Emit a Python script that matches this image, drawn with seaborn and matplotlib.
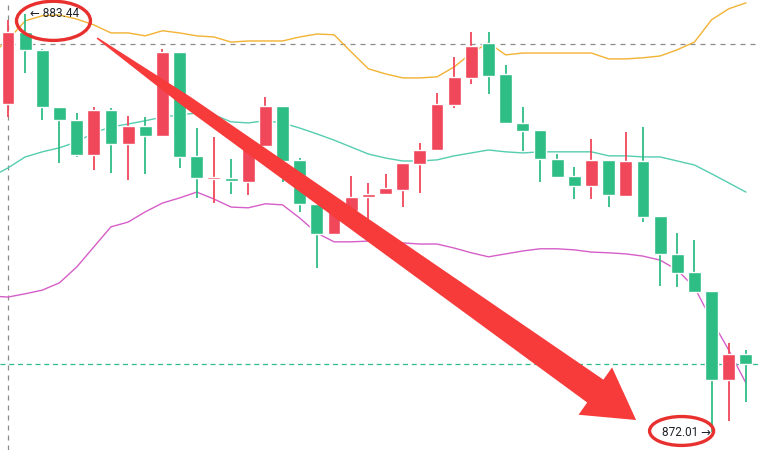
import numpy as np
import pandas as pd
import seaborn as sns
import matplotlib.pyplot as plt
from matplotlib.patches import Ellipse, Polygon

# Candles, oldest first (red = up, green = down)
opens = [880.98, 882.95, 882.46, 880.90, 880.54, 879.59, 880.82, 879.89, 880.38, 880.10,
         882.40, 879.56, 878.93, 878.96, 878.85, 879.83, 880.93, 879.45, 878.25, 877.43,
         878.05, 878.44, 878.52, 878.63, 879.34, 879.72, 880.95, 881.69, 882.65, 881.80,
         880.46, 880.27, 879.48, 879.01, 878.74, 879.45, 878.46, 879.42, 877.92, 876.88,
         876.39, 875.87, 873.43, 874.15]
highs = [883.28, 883.44, 882.48, 880.90, 880.73, 880.90, 880.87, 880.65, 880.62, 882.48,
         882.40, 880.32, 880.08, 879.48, 880.05, 881.17, 880.93, 879.50, 878.25, 878.36,
         879.01, 878.82, 879.07, 879.37, 879.91, 881.28, 882.26, 882.95, 882.95, 882.05,
         880.90, 880.27, 879.61, 879.26, 880.02, 879.45, 880.21, 880.35, 877.92, 877.45,
         877.26, 875.87, 874.45, 874.25]
lows = [880.62, 881.83, 880.54, 879.37, 879.53, 879.18, 879.09, 878.90, 879.07, 880.10,
        879.23, 878.41, 878.27, 878.52, 878.49, 879.83, 878.85, 878.03, 876.50, 877.43,
        878.05, 877.75, 878.52, 878.16, 878.55, 879.72, 880.87, 881.53, 881.25, 880.46,
        879.69, 878.85, 878.98, 878.38, 878.38, 878.16, 878.46, 877.75, 876.00, 875.98,
        875.84, 872.01, 872.31, 872.83]
closes = [882.95, 882.46, 880.90, 880.54, 879.59, 880.82, 879.89, 880.38, 880.10, 882.40,
          879.53, 878.96, 878.98, 878.87, 879.86, 880.93, 879.42, 878.25, 877.43, 878.22,
          878.44, 878.52, 878.68, 879.37, 879.72, 880.98, 881.72, 882.57, 881.75, 880.46,
          880.24, 879.48, 878.98, 878.74, 879.45, 878.49, 879.42, 877.89, 876.88, 876.36,
          875.84, 873.43, 874.15, 873.87]

# Bollinger bands, starting one candle before the first visible one
band_x = list(range(-1, 44))
upper = [882.32, 882.73, 883.25, 883.39, 883.41, 883.30, 883.14, 882.92, 882.92, 882.84,
         882.98, 882.92, 882.84, 882.81, 882.67, 882.70, 882.70, 882.70, 882.81, 882.89,
         882.87, 882.40, 881.94, 881.80, 881.69, 881.69, 881.72, 881.99, 882.37, 882.65,
         882.32, 882.37, 882.37, 882.37, 882.37, 882.37, 882.21, 882.21, 882.24, 882.29,
         882.46, 882.67, 883.28, 883.58, 883.74]
middle = [878.98, 879.23, 879.53, 879.67, 879.78, 879.94, 880.19, 880.35, 880.43, 880.52,
          880.62, 880.68, 880.73, 880.68, 880.49, 880.46, 880.52, 880.46, 880.32, 880.16,
          879.99, 879.80, 879.61, 879.50, 879.42, 879.42, 879.45, 879.56, 879.64, 879.72,
          879.67, 879.64, 879.67, 879.67, 879.67, 879.67, 879.56, 879.56, 879.53, 879.53,
          879.42, 879.31, 879.07, 878.82, 878.57]
lower = [875.73, 875.70, 875.79, 875.89, 876.09, 876.52, 877.07, 877.62, 877.75, 878.03,
         878.27, 878.41, 878.57, 878.38, 878.16, 878.14, 878.25, 878.22, 877.86, 877.45,
         877.21, 877.21, 877.23, 877.21, 877.18, 877.15, 877.15, 877.04, 876.91, 876.80,
         876.88, 876.96, 877.02, 877.02, 876.99, 876.93, 876.91, 876.88, 876.82, 876.71,
         876.44, 875.97, 875.07, 874.25, 873.35]

# crosshair position
cross_idx = 0
cross_price = 882.62

UP = '#F0475B'
DOWN = '#2EBD85'
RED_MARK = '#E8302F'

sns.set_style('white')
plt.rcParams['font.family'] = ['Roboto', 'DejaVu Sans']

fig = plt.figure(figsize=(7.6, 4.5), dpi=100)
ax = fig.add_axes([0, 0, 1, 1])

df = pd.DataFrame({'open': opens, 'high': highs, 'low': lows, 'close': closes})
df['idx'] = np.arange(len(df))
colors = np.where(df['close'] >= df['open'], UP, DOWN)

# crosshair and last price line
ax.axvline(cross_idx, color='#8A8A8A', lw=0.9, ls=(0, (4, 4)), zorder=1)
ax.axhline(cross_price, color='#8A8A8A', lw=0.9, ls=(0, (4, 4)), zorder=1)
ax.axhline(closes[-1], color=DOWN, lw=0.9, ls=(0, (4, 3)), zorder=1)

# bands
bands = pd.DataFrame({'x': band_x, 'upper': upper, 'middle': middle, 'lower': lower})
sns.lineplot(data=bands, x='x', y='upper', ax=ax, color='#F2B233', lw=1, zorder=2)
sns.lineplot(data=bands, x='x', y='middle', ax=ax, color='#55CDB0', lw=1, zorder=2)
sns.lineplot(data=bands, x='x', y='lower', ax=ax, color='#D65EC8', lw=1, zorder=2)

# candles
ax.vlines(df['idx'], df['low'], df['high'], colors=colors, lw=1.3, zorder=3)
body = (df['close'] - df['open']).abs().clip(lower=0.03)
ax.bar(df['idx'], body, bottom=df[['open', 'close']].min(axis=1), width=0.75,
       color=colors, zorder=4)

ax.set_xlim(-0.466, 43.82)
ax.set_ylim(871.52, 883.82)
ax.axis('off')

# high / low labels
hi_i = int(np.argmax(highs))
lo_i = int(np.argmin(lows))
ax.text(hi_i + 0.28, highs[hi_i], f'← {highs[hi_i]:.2f}', ha='left', va='center',
        fontsize=8.5, color='#1E2329', zorder=6)
ax.text(lo_i - 0.05, lows[lo_i], f'{lows[lo_i]:.2f} →', ha='right', va='center',
        fontsize=8.5, color='#1E2329', zorder=6)

# red circles around the labels
ax.add_patch(Ellipse((2.65, 883.25), 4.31, 1.07, fill=False, ec=RED_MARK, lw=2.4, zorder=7))
ax.add_patch(Ellipse((39.25, 872.04), 3.73, 0.79, fill=False, ec=RED_MARK, lw=2.4, zorder=7))


def fat_arrow(ax, tail, tip, color):
    """Tapered arrow drawn in pixel space, then mapped back to data."""
    T = ax.transData.transform(tail)
    P = ax.transData.transform(tip)
    d = P - T
    u = d / np.hypot(*d)
    n = np.array([-u[1], u[0]])
    head_len, head_w = 50, 58
    B = P - u * head_len
    fr = [0, 0.18, 1.0]
    ws = [1.5, 12, 28]
    left = [T + (B - T) * f + n * w / 2 for f, w in zip(fr, ws)]
    right = [T + (B - T) * f - n * w / 2 for f, w in zip(fr, ws)]
    pts = left + [B + n * head_w / 2, P, B - n * head_w / 2] + right[::-1]
    pts = ax.transData.inverted().transform(np.array(pts))
    ax.add_patch(Polygon(pts, closed=True, color=color, lw=0, zorder=5))


fat_arrow(ax, (5.19, 882.78), (36.6, 872.34), '#F73A3A')

fig.savefig('out.png', dpi=100)
